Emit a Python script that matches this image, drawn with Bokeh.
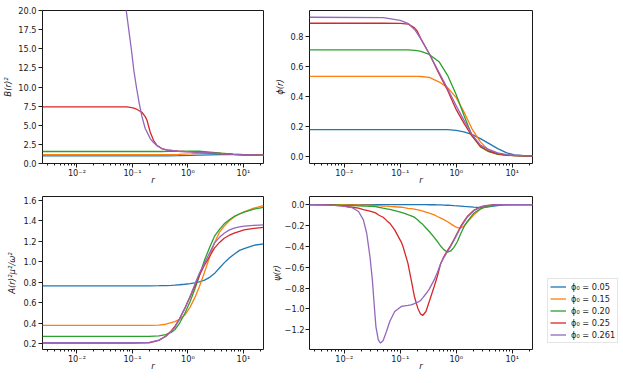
from bokeh.plotting import figure
from bokeh.layouts import row, column
from bokeh.models import Range1d, FixedTicker, CustomJSTickFormatter, Legend, LegendItem
from bokeh.embed import file_html
from bokeh.resources import INLINE

labels = ["\u03d5\u2080 = 0.05", "\u03d5\u2080 = 0.15", "\u03d5\u2080 = 0.20", "\u03d5\u2080 = 0.25", "\u03d5\u2080 = 0.261"]
colors = ["#1f77b4", "#ff7f0e", "#2ca02c", "#d62728", "#9467bd"]

# ---- B(r)^2 ----
r_B = [0.0024, 0.01, 0.05, 0.065, 0.0774, 0.0863, 0.0962, 0.106, 0.118, 0.133, 0.149, 0.17, 0.183, 0.209, 0.24,
       0.275, 0.338, 0.445, 0.67, 1.15, 1.6, 2.5, 4.0, 6.5, 10.0, 15.0, 23.0]
B_005 = [1.0]*18 + [1.02, 1.05, 1.09, 1.13, 1.16, 1.16, 1.14, 1.11, 1.08]
B_015 = [1.15]*17 + [1.16, 1.18, 1.25, 1.32, 1.36, 1.31, 1.22, 1.15, 1.11, 1.08]
B_020 = [1.57]*17 + [1.575, 1.59, 1.61, 1.60, 1.50, 1.36, 1.22, 1.15, 1.11, 1.08]
B_025 = [7.4, 7.4, 7.4, 7.4, 7.39, 7.36, 7.3, 7.23, 7.12, 6.9, 6.68, 6.13, 5.65, 4.12, 3.04, 2.39, 1.96, 1.73,
         1.6, 1.52, 1.46, 1.38, 1.29, 1.19, 1.14, 1.11, 1.08]
B_0261 = [4000, 500, 33, 24.5, 20.0, 17.4, 14.8, 12.2, 10.0, 7.83, 6.09, 4.57, 4.13, 3.26, 2.74, 2.34, 1.96, 1.73,
          1.6, 1.52, 1.46, 1.38, 1.29, 1.19, 1.14, 1.11, 1.08]

# ---- phi(r) ----
r_phi = [0.0024, 0.05, 0.1, 0.14, 0.18, 0.2, 0.235, 0.33, 0.5, 0.7, 1.0, 1.37, 1.9, 2.7, 3.8, 5.5, 8.0, 11.0, 16.0, 23.0]
phi_005 = [0.177]*10 + [0.172, 0.162, 0.145, 0.117, 0.085, 0.05, 0.022, 0.009, 0.004, 0.002]
phi_015 = [0.532, 0.532, 0.532, 0.532, 0.532, 0.532, 0.531, 0.525, 0.494, 0.457, 0.39, 0.295, 0.184, 0.095, 0.04, 0.016, 0.007, 0.004, 0.002, 0.001]
phi_020 = [0.709, 0.709, 0.709, 0.708, 0.705, 0.703, 0.698, 0.678, 0.627, 0.539, 0.41, 0.273, 0.14, 0.062, 0.03, 0.012, 0.005, 0.003, 0.001, 0.0005]
phi_025 = [0.886, 0.886, 0.885, 0.88, 0.855, 0.835, 0.78, 0.683, 0.545, 0.44, 0.31, 0.22, 0.135, 0.066, 0.033, 0.015, 0.007, 0.004, 0.002, 0.001]
phi_0261 = [0.926, 0.924, 0.905, 0.883, 0.845, 0.82, 0.78, 0.683, 0.554, 0.45, 0.335, 0.24, 0.147, 0.073, 0.045, 0.022, 0.01, 0.006, 0.003, 0.002]

# ---- A(r)^2 mu^2 / omega^2 ----
r_A = [0.0024, 0.1, 0.2, 0.3, 0.4, 0.5, 0.58, 0.7, 0.88, 1.1, 1.32, 1.6, 2.0, 2.5, 3.0, 3.7, 4.5, 5.5, 6.8, 8.5,
       10.3, 15.4, 23.0]
A_005 = [0.766, 0.766, 0.766, 0.767, 0.768, 0.77, 0.772, 0.776, 0.781, 0.788, 0.795, 0.804, 0.822, 0.851, 0.885,
         0.94, 0.99, 1.035, 1.075, 1.112, 1.13, 1.162, 1.175]
A_015 = [0.378, 0.378, 0.379, 0.382, 0.39, 0.405, 0.415, 0.435, 0.48, 0.56, 0.645, 0.755, 0.9, 1.06, 1.183, 1.29,
         1.35, 1.40, 1.438, 1.47, 1.49, 1.525, 1.55]
A_020 = [0.271, 0.271, 0.271, 0.276, 0.289, 0.31, 0.336, 0.395, 0.498, 0.615, 0.727, 0.86, 1.02, 1.15, 1.248, 1.318,
         1.372, 1.41, 1.444, 1.468, 1.486, 1.515, 1.533]
A_025 = [0.205, 0.205, 0.208, 0.232, 0.275, 0.325, 0.368, 0.44, 0.547, 0.66, 0.759, 0.865, 0.971, 1.06, 1.134, 1.19,
         1.231, 1.258, 1.28, 1.298, 1.313, 1.328, 1.338]
A_0261 = [0.21, 0.21, 0.212, 0.234, 0.27, 0.32, 0.36, 0.435, 0.545, 0.665, 0.775, 0.885, 0.99, 1.095, 1.183, 1.24,
          1.28, 1.31, 1.33, 1.342, 1.35, 1.357, 1.362]

# ---- psi(r) ----
r_psi = [0.0024, 0.005, 0.0091, 0.0137, 0.018, 0.022, 0.0252, 0.0288, 0.0318, 0.0345, 0.0368, 0.0406, 0.0445, 0.0496,
         0.0568, 0.065, 0.0796, 0.1045, 0.112, 0.137, 0.157, 0.179, 0.206, 0.229, 0.252, 0.288, 0.33, 0.404, 0.46,
         0.531, 0.6, 0.7, 0.8, 0.91, 1.05, 1.2, 1.4, 1.57, 2.06, 2.7, 3.3, 4.6, 7.0, 10.0, 23.0]
psi_005 = [0]*18 + [-0.001]*8 + [-0.002, -0.002, -0.003, -0.004, -0.005, -0.007, -0.009, -0.011, -0.013, -0.015,
                                 -0.018, -0.02, -0.025, -0.029, -0.028, -0.015, -0.004, -0.001, 0]
psi_015 = [0, 0, -0.002, -0.003, -0.004, -0.005, -0.006, -0.007, -0.008, -0.009, -0.01, -0.011, -0.012, -0.014,
           -0.016, -0.018, -0.021, -0.026, -0.028, -0.036, -0.04, -0.045, -0.051, -0.057, -0.063, -0.072, -0.082,
           -0.099, -0.115, -0.131, -0.145, -0.165, -0.185, -0.204, -0.222, -0.227, -0.203, -0.17, -0.099, -0.045,
           -0.022, -0.006, -0.001, 0, 0]
psi_020 = [0, -0.001, -0.006, -0.009, -0.012, -0.014, -0.015, -0.017, -0.018, -0.019, -0.021, -0.026, -0.03, -0.035,
           -0.041, -0.047, -0.058, -0.075, -0.08, -0.097, -0.108, -0.121, -0.148, -0.172, -0.19, -0.225, -0.258,
           -0.315, -0.354, -0.4, -0.432, -0.457, -0.445, -0.41, -0.354, -0.28, -0.205, -0.163, -0.083, -0.041,
           -0.022, -0.008, -0.001, 0, 0]
psi_025 = [0, -0.004, -0.013, -0.026, -0.035, -0.048, -0.056, -0.064, -0.07, -0.076, -0.082, -0.098, -0.11, -0.122,
           -0.152, -0.179, -0.243, -0.36, -0.402, -0.562, -0.722, -0.881, -0.993, -1.047, -1.063, -1.025, -0.929,
           -0.785, -0.687, -0.562, -0.5, -0.44, -0.39, -0.335, -0.27, -0.21, -0.155, -0.115, -0.055, -0.022, -0.01,
           -0.003, -0.001, 0, 0]
psi_0261 = [0, -0.003, -0.013, -0.029, -0.067, -0.147, -0.275, -0.498, -0.722, -0.977, -1.169, -1.296, -1.328,
            -1.303, -1.217, -1.121, -1.025, -0.977, -0.973, -0.966, -0.961, -0.95, -0.935, -0.922, -0.895, -0.855,
            -0.81, -0.722, -0.652, -0.562, -0.51, -0.45, -0.4, -0.345, -0.28, -0.22, -0.165, -0.121, -0.06, -0.025,
            -0.012, -0.004, -0.001, 0, 0]

x_major = [0.01, 0.1, 1, 10]
x_minor = [k * 10.0 ** e for e in range(-3, 2) for k in range(2, 10)]

FONT = "DejaVu Sans"
FS = "8.2px"
INK = "#1a1a1a"

log_fmt = CustomJSTickFormatter(code="""
const e = Math.round(Math.log10(tick));
const m = {'-':'\u207b','0':'\u2070','1':'\u00b9','2':'\u00b2','3':'\u00b3'};
return '10' + String(e).split('').map(c => m[c]).join('');
""")
y_fmt = CustomJSTickFormatter(code="return tick.toFixed(1).replace('-', '\u2212');")


def make_fig(w, h, ml, mr, mt, mb, yr, yticks, ylabel, ylab_standoff):
    p = figure(width=w, height=h, x_axis_type="log", x_range=Range1d(0.0024, 23), y_range=Range1d(*yr),
               output_backend="svg", toolbar_location=None,
               min_border_left=ml, min_border_right=mr, min_border_top=mt, min_border_bottom=mb)
    p.xgrid.visible = False
    p.ygrid.visible = False
    p.outline_line_color = INK
    p.outline_line_width = 1
    p.xaxis.ticker = FixedTicker(ticks=x_major, minor_ticks=x_minor)
    p.xaxis.formatter = log_fmt
    p.yaxis.ticker = FixedTicker(ticks=yticks, minor_ticks=[])
    p.yaxis.formatter = y_fmt
    p.xaxis.axis_label = "r"
    p.yaxis.axis_label = ylabel
    for ax in (p.xaxis, p.yaxis):
        ax.axis_line_color = None
        ax.major_tick_out = 4
        ax.major_tick_in = 0
        ax.minor_tick_out = 2
        ax.minor_tick_in = 0
        ax.major_tick_line_color = INK
        ax.minor_tick_line_color = INK
        ax.major_label_text_font = FONT
        ax.major_label_text_font_size = FS
        ax.major_label_text_color = INK
        ax.axis_label_text_font = FONT
        ax.axis_label_text_font_size = "8.5px"
        ax.axis_label_text_color = INK
        ax.axis_label_text_font_style = "italic"
    p.xaxis.major_label_standoff = 0
    p.yaxis.major_label_standoff = 2
    p.xaxis.axis_label_standoff = -6
    p.yaxis.axis_label_standoff = ylab_standoff
    return p


def add_lines(p, r, series):
    for ys, c in zip(series, colors):
        p.line(r, ys, line_color=c, line_width=1.3)


pB = make_fig(268, 190, 39, 5, 10, 27, (0, 20), [0, 2.5, 5, 7.5, 10, 12.5, 15, 17.5, 20], "B(r)\u00b2", 2)
add_lines(pB, r_B, [B_005, B_015, B_020, B_025, B_0261])

pPhi = make_fig(269, 190, 40, 5, 10, 27, (-0.049, 0.971), [0, 0.2, 0.4, 0.6, 0.8], "\u03d5(r)", 2)
add_lines(pPhi, r_phi, [phi_005, phi_015, phi_020, phi_025, phi_0261])

pA = make_fig(268, 189, 39, 5, 6, 30, (0.143, 1.639), [0.2, 0.4, 0.6, 0.8, 1.0, 1.2, 1.4, 1.6],
              "A(r)\u00b2\u03bc\u00b2/\u03c9\u00b2", 3)
add_lines(pA, r_A, [A_005, A_015, A_020, A_025, A_0261])

pPsi = make_fig(269, 189, 40, 5, 6, 30, (-1.389, 0.077), [0, -0.2, -0.4, -0.6, -0.8, -1.0, -1.2], "\u03c8(r)", 0)
pPsi.yaxis.major_label_standoff = 1
add_lines(pPsi, r_psi, [psi_005, psi_015, psi_020, psi_025, psi_0261])

# legend panel
lf = figure(width=82, height=379, output_backend="svg", toolbar_location=None,
            x_range=Range1d(0, 1), y_range=Range1d(0, 1), x_axis_location=None, y_axis_location=None,
            min_border_left=0, min_border_right=0, min_border_top=0, min_border_bottom=0)
lf.grid.visible = False
lf.outline_line_color = None
items = []
for lab, c in zip(labels, colors):
    rr = lf.line([5, 6], [5, 6], line_color=c, line_width=1.3)
    items.append(LegendItem(label=lab, renderers=[rr]))
leg = Legend(items=items, location=(10, 36))
leg.label_text_font = FONT
leg.label_text_font_size = FS
leg.label_text_color = INK
leg.border_line_color = "#cccccc"
leg.border_line_width = 1
leg.background_fill_alpha = 0.8
leg.glyph_width = 16
leg.glyph_height = 11
leg.label_height = 11
leg.spacing = 1
leg.padding = 2
leg.margin = 0
leg.label_standoff = 5
lf.add_layout(leg)

layout = row(column(pB, pA), column(pPhi, pPsi), lf)
open("out.html", "w").write(file_html(layout, INLINE))
